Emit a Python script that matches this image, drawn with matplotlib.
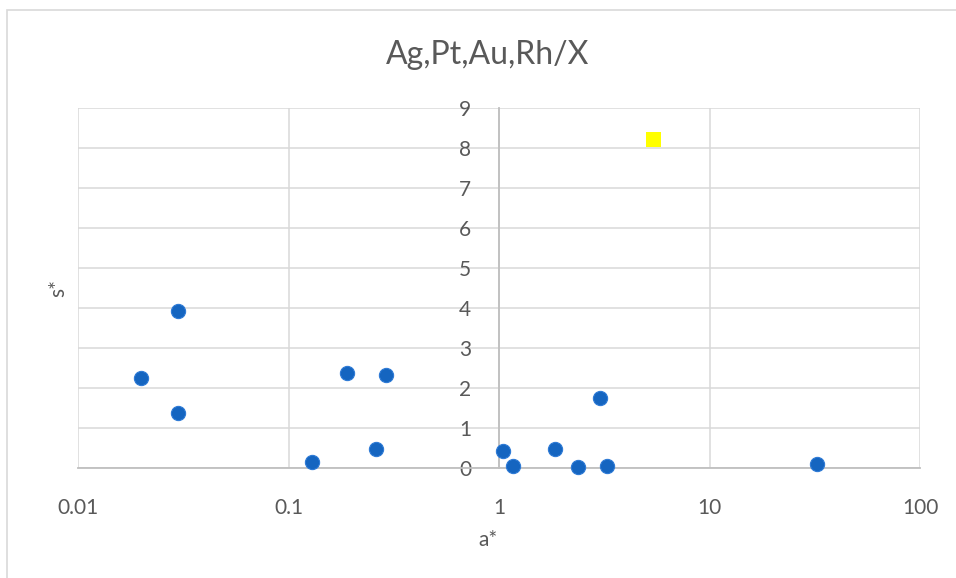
import matplotlib
matplotlib.use("Agg")
import matplotlib.pyplot as plt
from matplotlib.patches import Rectangle
from matplotlib.ticker import FixedLocator, FixedFormatter

plt.rcParams['font.family'] = ['Lato', 'DejaVu Sans']

# Ag, Pt, Au, Rh data (blue circles)
a_vals = [0.02, 0.03, 0.03, 0.13, 0.19, 0.26, 0.29, 1.04, 1.16, 1.85, 2.38, 3.01, 3.25, 32.3]
s_vals = [2.25, 3.91, 1.36, 0.15, 2.36, 0.47, 2.32, 0.42, 0.05, 0.47, 0.01, 1.74, 0.04, 0.10]

# X data (yellow square)
x_a = [5.43]
x_s = [8.22]

x_ticks = [0.01, 0.1, 1, 10, 100]
x_tick_labels = ["0.01", "0.1", "1", "10", "100"]
y_ticks = list(range(0, 10))

text_color = "#595959"
grid_color = "#d9d9d9"
axis_color = "#bfbfbf"

W, H = 956, 578
fig = plt.figure(figsize=(W / 100, H / 100), dpi=100)

# chart frame (runs past the right and bottom edges of the image)
fig.patches.append(Rectangle((7 / W, -0.1), 1.2, 1.1 - 10 / H, transform=fig.transFigure,
                             fill=False, edgecolor="#d9d9d9", linewidth=1.2))

left, right, top, bottom = 78, 920, 108, 467.5
ax = fig.add_axes([left / W, 1 - bottom / H, (right - left) / W, (bottom - top) / H])

ax.set_xscale("log")
ax.set_xlim(0.01, 100)
ax.set_ylim(0, 9)

ax.xaxis.set_major_locator(FixedLocator(x_ticks))
ax.xaxis.set_major_formatter(FixedFormatter(x_tick_labels))
ax.xaxis.set_minor_locator(FixedLocator([]))
ax.yaxis.set_major_locator(FixedLocator(y_ticks))

ax.grid(True, which="major", color=grid_color, linewidth=1.1)
ax.set_axisbelow(True)

for side in ["top", "right"]:
    ax.spines[side].set_visible(False)
ax.spines["left"].set_position(("data", 1))
ax.spines["left"].set_color(axis_color)
ax.spines["left"].set_linewidth(1.3)
ax.spines["bottom"].set_color(axis_color)
ax.spines["bottom"].set_linewidth(1.3)

ax.tick_params(axis="x", length=0, pad=22, labelsize=15, labelcolor=text_color)
ax.tick_params(axis="y", length=0, pad=20, labelsize=15, labelcolor=text_color)

ax.scatter(a_vals, s_vals, s=105, marker="o", color="#1565c0",
           edgecolors="#2f7bd6", linewidths=0.8, zorder=3, clip_on=False)
ax.scatter(x_a, x_s, s=115, marker="s", color="#ffff00",
           edgecolors="none", zorder=3, clip_on=False)

fig.text(488 / W, 1 - 55 / H, "Ag,Pt,Au,Rh/X", ha="center", va="center",
         fontsize=23, color=text_color)
fig.text(488 / W, 1 - 540 / H, "a*", ha="center", va="center",
         fontsize=15, color=text_color)
fig.text(58 / W, 1 - 288 / H, "s*", ha="center", va="center", rotation=90,
         fontsize=15, color=text_color)

fig.savefig("out.png", dpi=100)
